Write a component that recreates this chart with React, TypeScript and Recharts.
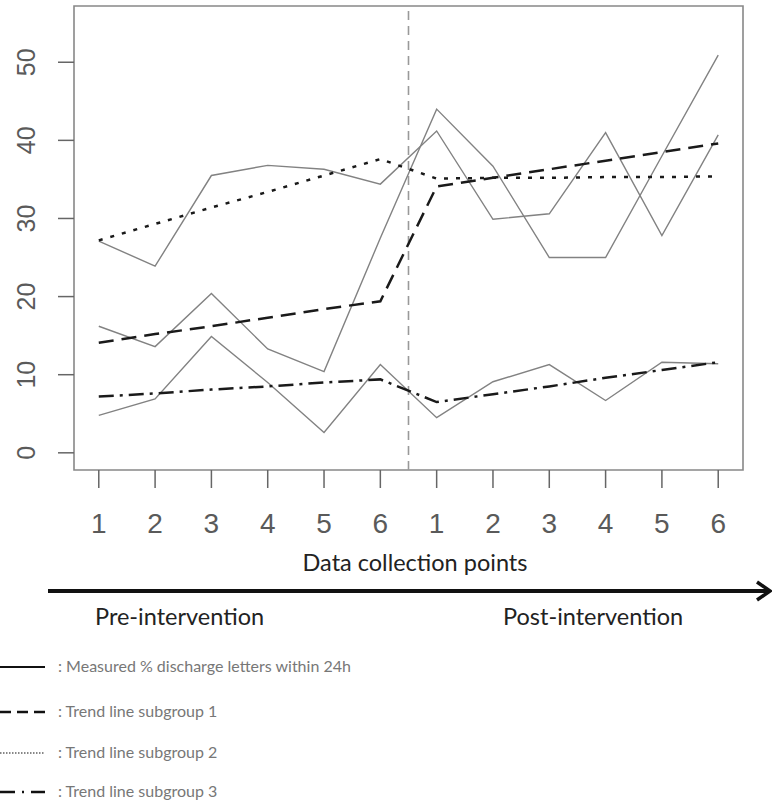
import React from 'react';
import { LineChart, Line, XAxis, YAxis, ReferenceLine, ReferenceArea } from 'recharts';

// data collection points, pre (1-6) and post (1-6) intervention
const points = [1, 2, 3, 4, 5, 6, 7, 8, 9, 10, 11, 12];
const pointLabels = ['1', '2', '3', '4', '5', '6', '1', '2', '3', '4', '5', '6'];
const yTicks = [0, 10, 20, 30, 40, 50];

// measured % discharge letters within 24h, one per subgroup
const measuredA = [27.1, 23.9, 35.5, 36.8, 36.3, 34.4, 41.2, 29.9, 30.6, 41.0, 27.8, 40.7];
const measuredB = [16.2, 13.6, 20.4, 13.3, 10.4, 27.5, 44.0, 36.7, 25.0, 25.0, 38.0, 50.9];
const measuredC = [4.8, 6.9, 14.9, 9.0, 2.6, 11.3, 4.5, 9.1, 11.3, 6.7, 11.6, 11.4];

// trend lines
const trend1 = [14.1, 15.2, 16.2, 17.3, 18.4, 19.4, 34.1, 35.2, 36.3, 37.4, 38.5, 39.6];
const trend2 = [27.2, 29.3, 31.4, 33.4, 35.5, 37.6, 35.1, 35.2, 35.2, 35.3, 35.3, 35.4];
const trend3 = [7.2, 7.6, 8.1, 8.5, 9.0, 9.4, 6.5, 7.5, 8.5, 9.6, 10.6, 11.6];

const data = points.map((x, i) => ({
  x,
  a: measuredA[i],
  b: measuredB[i],
  c: measuredC[i],
  t1: trend1[i],
  t2: trend2[i],
  t3: trend3[i],
}));

const X_DOMAIN: [number, number] = [0.56, 12.44];
const Y_DOMAIN: [number, number] = [-2.2, 57.2];

const XTick = (props: any) => {
  const { x, y, payload } = props;
  return (
    <text x={x} y={y + 45} textAnchor="middle" fontSize={28} fill="#5a5a5a"
      fontFamily="'Liberation Sans', Arial, sans-serif">
      {pointLabels[payload.value - 1]}
    </text>
  );
};

const YTick = (props: any) => {
  const { x, y, payload } = props;
  return (
    <text x={x - 21} y={y} textAnchor="middle" fontSize={25} fill="#5a5a5a"
      fontFamily="'Liberation Sans', Arial, sans-serif"
      transform={`rotate(-90, ${x - 21}, ${y})`}>
      {payload.value}
    </text>
  );
};

const legendItems = [
  { dash: undefined, width: 1.8, label: ': Measured % discharge letters within 24h', y: 667 },
  { dash: '11 6', width: 2.4, label: ': Trend line subgroup 1', y: 712 },
  { dash: '1.5 1.5', width: 1.2, label: ': Trend line subgroup 2', y: 753 },
  { dash: '15 7 2 7', width: 2.4, label: ': Trend line subgroup 3', y: 792 },
];

const TOP = 540;

export default function App() {
  return (
    <div style={{ position: 'absolute', left: 0, top: 0, width: 772, height: 804, background: '#fff' }}>
      <LineChart width={772} height={TOP} data={data}
        margin={{ top: 6, right: 29, left: 0, bottom: 0 }}>
        <XAxis dataKey="x" type="number" domain={X_DOMAIN} ticks={points}
          allowDataOverflow axisLine={false} tickSize={18} tickMargin={0}
          tickLine={{ stroke: '#666', strokeWidth: 1.5 }} tick={<XTick />} height={70} interval={0} />
        <YAxis type="number" domain={Y_DOMAIN} ticks={yTicks} allowDataOverflow
          axisLine={false} tickSize={16} tickMargin={2}
          tickLine={{ stroke: '#666', strokeWidth: 1.5 }} tick={<YTick />} width={74} />
        <ReferenceArea x1={X_DOMAIN[0]} x2={X_DOMAIN[1]} y1={Y_DOMAIN[0]} y2={Y_DOMAIN[1]}
          fill="none" fillOpacity={0} stroke="#888" strokeWidth={1.6} />
        <ReferenceLine x={6.5} stroke="#999" strokeWidth={1.6} strokeDasharray="9 6" />
        <Line type="linear" dataKey="a" stroke="#828282" strokeWidth={1.4} dot={false} isAnimationActive={false} />
        <Line type="linear" dataKey="b" stroke="#828282" strokeWidth={1.4} dot={false} isAnimationActive={false} />
        <Line type="linear" dataKey="c" stroke="#828282" strokeWidth={1.4} dot={false} isAnimationActive={false} />
        <Line type="linear" dataKey="t1" stroke="#1a1a1a" strokeWidth={2.5} strokeDasharray="15 8" dot={false} isAnimationActive={false} />
        <Line type="linear" dataKey="t2" stroke="#1a1a1a" strokeWidth={2.5} strokeDasharray="4 8" dot={false} isAnimationActive={false} />
        <Line type="linear" dataKey="t3" stroke="#1a1a1a" strokeWidth={2.5} strokeDasharray="15 6 3 6" dot={false} isAnimationActive={false} />
      </LineChart>
      <svg width={772} height={804 - TOP} style={{ position: 'absolute', left: 0, top: TOP }}>
        <g fontFamily="Lato, 'Open Sans', sans-serif">
          <text x={415} y={571 - TOP} textAnchor="middle" fontSize={23.5} fill="#222">Data collection points</text>
          <line x1={48} y1={591 - TOP} x2={768} y2={591 - TOP} stroke="#111" strokeWidth={4} />
          <polyline points={`757,${582 - TOP} 770,${591 - TOP} 757,${600 - TOP}`} fill="none" stroke="#111" strokeWidth={3.5} />
          <text x={95} y={625 - TOP} fontSize={23.5} fill="#222">Pre-intervention</text>
          <text x={503} y={625 - TOP} fontSize={23.5} fill="#222">Post-intervention</text>
          {legendItems.map((item) => (
            <g key={item.label}>
              <line x1={0} y1={item.y - TOP} x2={45} y2={item.y - TOP} stroke="#111"
                strokeWidth={item.width} strokeDasharray={item.dash} />
              <text x={58} y={item.y + 5 - TOP} fontSize={16} fill="#777">{item.label}</text>
            </g>
          ))}
        </g>
      </svg>
    </div>
  );
}
